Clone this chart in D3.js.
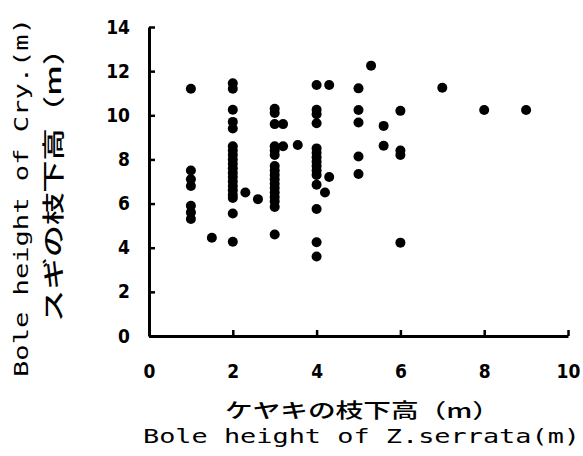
<!DOCTYPE html>
<html>
<head>
<meta charset="utf-8">
<script src="https://cdn.jsdelivr.net/npm/d3@7"></script>
<style>
  body { margin: 0; background: #fff; }
  svg { display: block; }
</style>
</head>
<body>
<div id="chart-area"></div>
<script>
const width = 583, height = 456;
const margin = ({top: 27, right: 15, bottom: 120, left: 149});

// Bole height of Z. serrata (x), one value per column of dots
const zelkova = [1, 1.5, 2, 2.3, 2.6, 3, 3.2, 3.55, 4, 4.2, 4.3, 5, 5.3, 5.6, 6, 7, 8, 9];
// Bole height of Cryptomeria (y) for the trees in each column
const cryptomeria = [
    [11.2, 7.5, 7.1, 6.8, 5.9, 5.6, 5.3],
    [4.45],
    [11.45, 11.2, 10.25, 9.7, 9.4, 8.6, 8.4, 8.2, 8.0, 7.8, 7.6, 7.4, 7.2, 7.0, 6.8, 6.6, 6.4, 6.25, 5.55, 4.27],
    [6.5],
    [6.2],
    [10.3, 10.1, 9.6, 8.6, 8.4, 8.2, 7.7, 7.5, 7.3, 7.1, 6.9, 6.7, 6.5, 6.3, 6.1, 5.85, 4.6],
    [9.6, 8.6],
    [8.65],
    [11.37, 10.25, 10.05, 9.64, 8.5, 8.3, 8.1, 7.9, 7.7, 7.5, 7.3, 6.85, 5.75, 4.25, 3.6],
    [6.5],
    [11.37, 7.2],
    [11.22, 10.24, 9.67, 8.13, 7.34],
    [12.25],
    [9.52, 8.62],
    [10.2, 8.4, 8.2, 4.23],
    [11.25],
    [10.24],
    [10.24]
];

const xTicks = [0, 2, 4, 6, 8, 10];
const yTicks = [0, 2, 4, 6, 8, 10, 12, 14];

const xTitle = "ケヤキの枝下高（m）";
const xTitleEn = "Bole height of Z.serrata(m)";
const yTitle = "スギの枝下高（m）";
const yTitleEn = "Bole height of Cry.(m)";

const points = d3.merge(zelkova.map((xv, i) => cryptomeria[i].map(yv => ({x: xv, y: yv}))));

const x = d3.scaleLinear()
    .domain([0, 10])
    .range([margin.left, width - margin.right]);

const y = d3.scaleLinear()
    .domain([0, 14])
    .range([height - margin.bottom, margin.top]);

const styleTicks = (g) => g.selectAll(".tick text")
    .attr("fill", "#000")
    .style("font-family", "'DejaVu Sans', sans-serif")
    .style("font-stretch", "condensed")
    .style("font-weight", "bold")
    .style("font-size", "19px");

const xAxis = (g) => g
    .attr("transform", `translate(0,${height - margin.bottom})`)
    .call(d3.axisBottom(x).tickValues(xTicks).tickSizeInner(-6).tickSizeOuter(0).tickPadding(29))
    .call(g => g.select(".domain").attr("stroke-width", 3))
    .call(g => g.selectAll(".tick line").attr("stroke-width", 2.5))
    .call(styleTicks);

const yAxis = (g) => g
    .attr("transform", `translate(${margin.left},0)`)
    .call(d3.axisLeft(y).tickValues(yTicks).tickSizeInner(-6).tickSizeOuter(0).tickPadding(19))
    .call(g => g.select(".domain").attr("stroke-width", 3))
    .call(g => g.selectAll(".tick line").attr("stroke-width", 2.5))
    .call(styleTicks);

const svg = d3.select("#chart-area").append("svg")
    .attr("width", width)
    .attr("height", height);

svg.append("g").call(xAxis);
svg.append("g").call(yAxis);

svg.append("g")
    .selectAll("circle")
    .data(points)
    .enter().append("circle")
    .attr("cx", d => x(d.x))
    .attr("cy", d => y(d.y))
    .attr("r", 5)
    .attr("fill", "#000");

// axis titles (the source font is wide, so stretch to the measured length)
const cjk = "'Noto Sans CJK JP', sans-serif";
const mono = "'DejaVu Sans Mono', monospace";

svg.append("text")
    .attr("x", 225).attr("y", 418)
    .style("font", `500 20px ${cjk}`)
    .attr("textLength", 275).attr("lengthAdjust", "spacingAndGlyphs")
    .text(xTitle);

svg.append("text")
    .attr("x", 143).attr("y", 443)
    .style("font", `20px ${mono}`)
    .attr("textLength", 437).attr("lengthAdjust", "spacingAndGlyphs")
    .text(xTitleEn);

svg.append("text")
    .attr("transform", "translate(61,322) rotate(-90)")
    .style("font", `500 22px ${cjk}`)
    .attr("textLength", 289).attr("lengthAdjust", "spacingAndGlyphs")
    .text(yTitle);

svg.append("text")
    .attr("transform", "translate(28,377) rotate(-90)")
    .style("font", `20px ${mono}`)
    .attr("textLength", 359).attr("lengthAdjust", "spacingAndGlyphs")
    .text(yTitleEn);
</script>
</body>
</html>
